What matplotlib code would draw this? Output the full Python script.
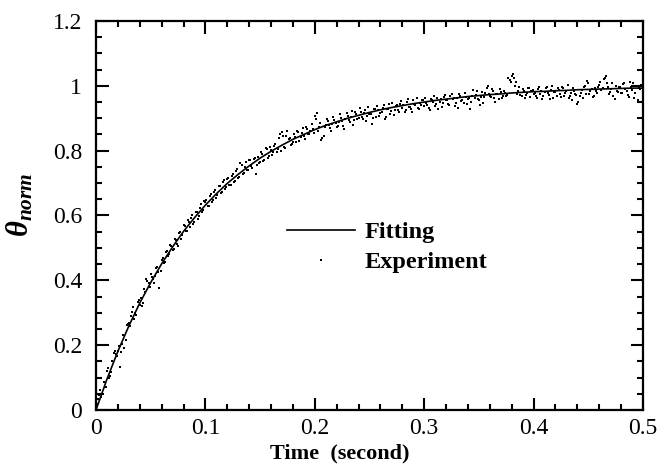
import matplotlib
matplotlib.use('Agg')
import matplotlib.pyplot as plt
from matplotlib.ticker import MultipleLocator
import numpy as np

# fitted curve, read every 0.01 s
fit_t = [0.00, 0.01, 0.02, 0.03, 0.04, 0.05, 0.06, 0.07, 0.08, 0.09,
         0.10, 0.11, 0.12, 0.13, 0.14, 0.15, 0.16, 0.17, 0.18, 0.19,
         0.20, 0.21, 0.22, 0.23, 0.24, 0.25, 0.26, 0.27, 0.28, 0.29,
         0.30, 0.31, 0.32, 0.33, 0.34, 0.35, 0.36, 0.37, 0.38, 0.39,
         0.40, 0.41, 0.42, 0.43, 0.44, 0.45, 0.46, 0.47, 0.48, 0.49, 0.50]
fit_y = [0.000, 0.095, 0.181, 0.259, 0.330, 0.393, 0.451, 0.503, 0.551, 0.593,
         0.632, 0.667, 0.699, 0.727, 0.753, 0.777, 0.798, 0.817, 0.835, 0.850,
         0.865, 0.878, 0.889, 0.900, 0.909, 0.918, 0.926, 0.933, 0.939, 0.945,
         0.950, 0.955, 0.959, 0.963, 0.967, 0.970, 0.973, 0.975, 0.978, 0.980,
         0.982, 0.983, 0.985, 0.986, 0.988, 0.989, 0.990, 0.991, 0.992, 0.993, 0.993]

# experiment: samples at even ms (0.002, 0.004, ... 0.500)
exp_y_even = [
    0.035, 0.062, 0.048, 0.072, 0.120, 0.098, 0.118, 0.176, 0.172, 0.183,
    0.133, 0.205, 0.192, 0.262, 0.268, 0.290, 0.318, 0.300, 0.333, 0.325,
    0.322, 0.372, 0.404, 0.392, 0.418, 0.405, 0.414, 0.440, 0.375, 0.463,
    0.452, 0.488, 0.475, 0.510, 0.495, 0.528, 0.511, 0.545, 0.528, 0.571,
    0.552, 0.585, 0.566, 0.601, 0.580, 0.612, 0.598, 0.635, 0.618, 0.641,
    0.628, 0.660, 0.642, 0.671, 0.655, 0.690, 0.668, 0.704, 0.681, 0.712,
    0.695, 0.722, 0.702, 0.738, 0.716, 0.762, 0.727, 0.750, 0.741, 0.771,
    0.752, 0.775, 0.728, 0.782, 0.765, 0.790, 0.772, 0.805, 0.785, 0.802,
    0.795, 0.822, 0.806, 0.852, 0.858, 0.812, 0.846, 0.835, 0.818, 0.826,
    0.842, 0.861, 0.830, 0.855, 0.845, 0.874, 0.851, 0.862, 0.868, 0.908,
    0.915, 0.872, 0.833, 0.846, 0.880, 0.891, 0.869, 0.882, 0.895, 0.872,
    0.888, 0.902, 0.876, 0.897, 0.908, 0.889, 0.922, 0.895, 0.913, 0.902,
    0.918, 0.897, 0.926, 0.907, 0.913, 0.882, 0.930, 0.905, 0.924, 0.915,
    0.931, 0.897, 0.928, 0.945, 0.922, 0.911, 0.938, 0.927, 0.944, 0.933,
    0.918, 0.950, 0.936, 0.929, 0.957, 0.941, 0.932, 0.948, 0.955, 0.938,
    0.946, 0.931, 0.960, 0.949, 0.938, 0.962, 0.951, 0.935, 0.966, 0.955,
    0.944, 0.968, 0.958, 0.937, 0.962, 0.974, 0.952, 0.946, 0.965, 0.958,
    0.930, 0.970, 0.962, 0.985, 0.955, 0.966, 0.948, 0.978, 0.999, 0.970,
    0.990, 0.962, 0.975, 0.958, 0.981, 0.968, 0.979, 0.972, 1.018, 1.030,
    1.025, 1.012, 0.985, 0.972, 0.990, 0.961, 0.978, 0.994, 0.983, 0.975,
    0.968, 0.990, 0.976, 0.958, 0.982, 0.995, 0.971, 0.987, 0.963, 0.980,
    0.992, 0.975, 0.997, 0.970, 0.984, 0.962, 0.979, 0.993, 0.975, 0.944,
    0.968, 0.986, 0.995, 0.975, 1.010, 0.983, 0.966, 0.992, 0.978, 1.003,
    0.988, 1.022, 1.030, 0.997, 0.982, 1.008, 0.960, 0.985, 0.996, 0.978,
    1.005, 0.990, 0.972, 1.012, 0.987, 0.962, 1.000, 0.992, 1.003, 0.998,
]
# experiment: samples at odd ms (0.001, 0.003, ... 0.499)
exp_y_odd = [
    0.018, 0.045, 0.040, 0.085, 0.072, 0.128, 0.105, 0.150, 0.182, 0.165,
    0.198, 0.180, 0.232, 0.215, 0.265, 0.258, 0.302, 0.282, 0.292, 0.338,
    0.345, 0.330, 0.365, 0.398, 0.380, 0.410, 0.392, 0.438, 0.425, 0.430,
    0.470, 0.458, 0.492, 0.480, 0.505, 0.498, 0.525, 0.505, 0.548, 0.540,
    0.568, 0.552, 0.580, 0.592, 0.575, 0.610, 0.590, 0.622, 0.610, 0.645,
    0.648, 0.630, 0.665, 0.648, 0.680, 0.662, 0.692, 0.672, 0.708, 0.688,
    0.715, 0.695, 0.728, 0.705, 0.742, 0.718, 0.755, 0.732, 0.765, 0.740,
    0.770, 0.748, 0.778, 0.755, 0.762, 0.795, 0.768, 0.808, 0.778, 0.812,
    0.788, 0.815, 0.795, 0.838, 0.800, 0.845, 0.808, 0.862, 0.840, 0.820,
    0.852, 0.828, 0.858, 0.842, 0.870, 0.835, 0.866, 0.850, 0.882, 0.856,
    0.898, 0.862, 0.885, 0.840, 0.872, 0.898, 0.878, 0.862, 0.905, 0.885,
    0.875, 0.912, 0.890, 0.868, 0.915, 0.895, 0.905, 0.880, 0.920, 0.898,
    0.932, 0.905, 0.915, 0.890, 0.935, 0.912, 0.900, 0.928, 0.938, 0.908,
    0.920, 0.942, 0.905, 0.930, 0.912, 0.948, 0.925, 0.940, 0.918, 0.952,
    0.940, 0.925, 0.958, 0.935, 0.920, 0.945, 0.962, 0.930, 0.942, 0.955,
    0.962, 0.940, 0.925, 0.955, 0.968, 0.945, 0.930, 0.960, 0.948, 0.972,
    0.955, 0.940, 0.975, 0.962, 0.948, 0.932, 0.968, 0.955, 0.978, 0.945,
    0.962, 0.950, 0.988, 0.972, 0.958, 0.940, 0.980, 0.965, 0.992, 0.975,
    0.965, 0.985, 0.950, 0.975, 0.990, 0.962, 0.985, 0.968, 1.025, 1.012,
    1.035, 0.998, 0.975, 0.995, 0.968, 0.985, 0.972, 0.992, 0.965, 0.988,
    0.978, 0.962, 0.995, 0.985, 0.970, 0.992, 0.978, 0.960, 0.998, 0.982,
    0.970, 0.988, 0.965, 0.992, 0.978, 1.002, 0.968, 0.955, 0.985, 0.972,
    0.950, 0.978, 0.962, 0.998, 1.015, 0.975, 0.990, 0.970, 0.985, 0.995,
    1.012, 0.992, 1.025, 1.008, 0.975, 0.990, 0.968, 1.000, 0.982, 0.995,
    0.978, 1.008, 0.985, 0.965, 0.995, 1.010, 0.978, 0.955, 0.990, 1.002,
]
t_even = 0.002 * np.arange(1, len(exp_y_even) + 1)
t_odd = 0.002 * np.arange(len(exp_y_odd)) + 0.001
exp_t = np.concatenate([t_odd, t_even])
exp_y = np.concatenate([exp_y_odd, exp_y_even])

plt.rcParams.update({
    'font.family': 'Liberation Serif',
    'mathtext.fontset': 'custom',
    'mathtext.rm': 'Liberation Serif',
    'mathtext.it': 'Liberation Serif:italic',
    'mathtext.bf': 'Liberation Serif:bold',
    'mathtext.bfit': 'Liberation Serif:italic:bold',
})

fig = plt.figure(figsize=(6.58, 4.70), dpi=100)
ax = fig.add_axes([0.1459, 0.1277, 0.8313, 0.8276])

ax.plot(fit_t, fit_y, color='black', lw=1.2, label='Fitting')
ax.plot(exp_t, exp_y, linestyle='none', marker='s', ms=1.6, mew=0,
        color='black', label='Experiment')

ax.set_xlim(0, 0.5)
ax.set_ylim(0, 1.2)
ax.xaxis.set_minor_locator(MultipleLocator(0.02))
ax.yaxis.set_minor_locator(MultipleLocator(0.05))
ax.set_xticks([0, 0.1, 0.2, 0.3, 0.4, 0.5])
ax.set_xticklabels(['0', '0.1', '0.2', '0.3', '0.4', '0.5'])
ax.set_yticks([0, 0.2, 0.4, 0.6, 0.8, 1.0, 1.2])
ax.set_yticklabels(['0', '0.2', '0.4', '0.6', '0.8', '1', '1.2'])
ax.tick_params(which='both', direction='in', top=True, right=True,
               width=1.5, labelsize=17)
ax.tick_params(axis='y', which='major', length=9, pad=10)
ax.tick_params(axis='x', which='major', length=9, pad=6)
ax.tick_params(which='minor', length=4.5)
for s in ax.spines.values():
    s.set_linewidth(1.6)

ax.set_xlabel('Time  (second)', fontsize=16, fontweight='bold', labelpad=2)
ax.xaxis.set_label_coords(0.446, -0.085)

fig.text(0.031, 0.565, r'$\mathbfit{θ}_{\mathbfit{norm}}$', rotation=90,
         ha='center', va='center', fontsize=22)

ax.legend(loc='upper left', bbox_to_anchor=(0.349, 0.485), frameon=False,
          handlelength=2.8, handletextpad=0.4, labelspacing=0.32,
          borderpad=0, borderaxespad=0,
          prop={'family': 'Liberation Serif', 'weight': 'bold', 'size': 17.5})

fig.savefig('out.png', dpi=100)
